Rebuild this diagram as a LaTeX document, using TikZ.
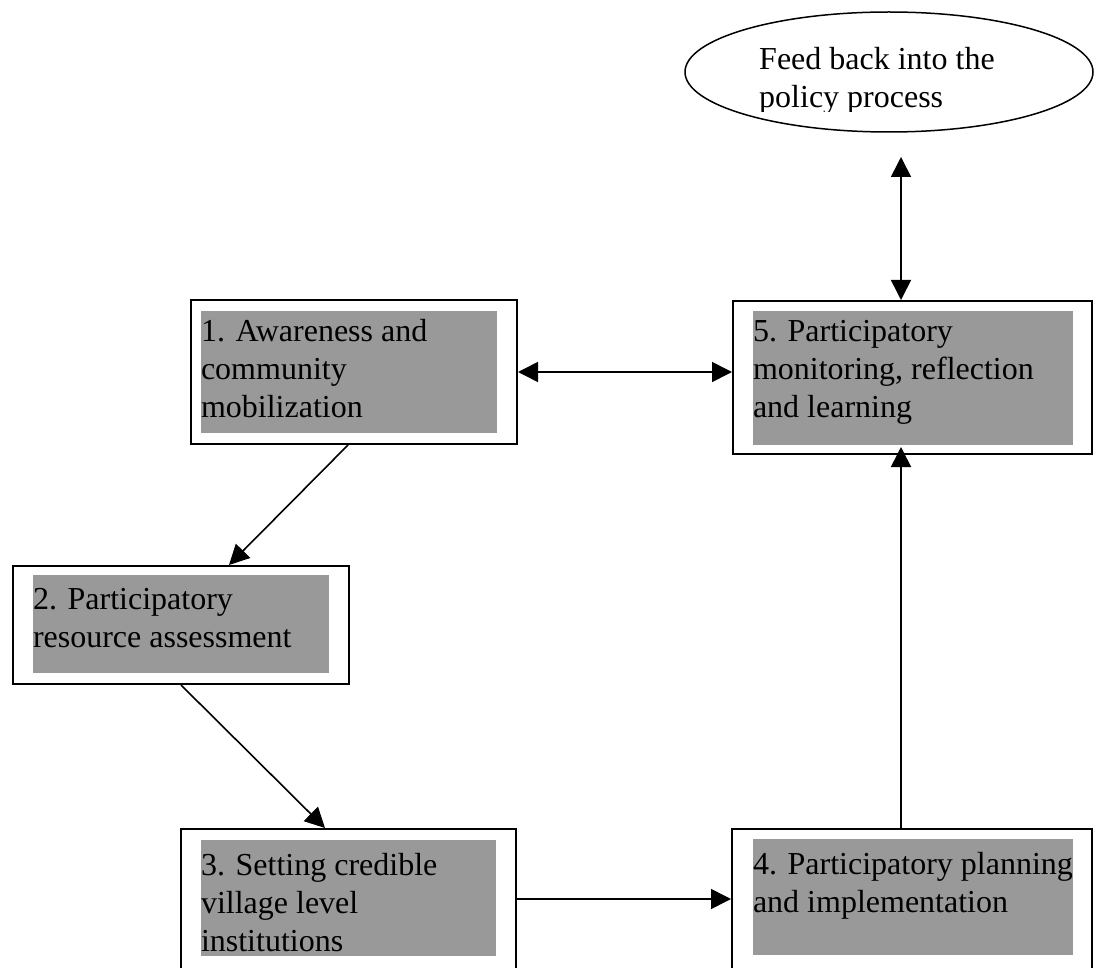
\documentclass[tikz,border=0pt]{standalone}
\usepackage{fontspec}
\setmainfont{Liberation Serif}
\usepackage{tikz}
\usetikzlibrary{arrows.meta,positioning,calc,shapes.geometric}
\definecolor{panelgrey}{RGB}{153,153,153}
\tikzset{
  base/.style={font=\fontsize{32pt}{38pt}\selectfont, text=black, inner sep=0pt},
  boxframe/.style={rectangle, draw=black, fill=white, line width=2pt, inner sep=0pt},
  panel/.style={rectangle, fill=panelgrey, draw=none, inner sep=0pt},
  txt/.style={base, align=left, anchor=base west},
  oval/.style={ellipse, draw=black, fill=white, line width=1.5pt, minimum width=408pt, minimum height=120pt, inner sep=0pt},
  arr/.style={-{Triangle[length=20pt,width=20pt]}, line width=1.6pt, draw=black},
  arr2/.style={{Triangle[length=20pt,width=20pt]}-{Triangle[length=20pt,width=20pt]}, line width=1.6pt, draw=black},
}

\begin{document}
\begin{tikzpicture}[x=1pt,y=-1pt]
  \useasboundingbox (0,0) rectangle (1095,968);
  % feedback oval (base anchor sits on the last line)
  \node[oval] (fbk) at (889,72) {};
  \begin{scope}
    \clip (600,0) rectangle (1095,112);
    \node[txt] (fbktxt) at (759,108) {Feed back into the\\policy process};
  \end{scope}
  % the five steps: frame, grey panel, text
  \node[boxframe, minimum width=326pt, minimum height=144pt] (box1) at (354,372) {};
  \node[panel, minimum width=296pt, minimum height=122pt] (pan1) at (349,372) {};
  \node[txt] (txt1) at ([yshift=-107pt]pan1.north west) {1. Awareness and\\community\\mobilization};

  \node[boxframe, minimum width=336pt, minimum height=118pt] (box2) at (181,625) {};
  \node[panel, minimum width=296pt, minimum height=98pt] (pan2) at (181,624) {};
  \node[txt] (txt2) at ([yshift=-73pt]pan2.north west) {2. Participatory\\resource assessment};

  \node[boxframe, minimum width=335pt, minimum height=140pt] (box3) at (348.5,899) {};
  \node[panel, minimum width=295pt, minimum height=116pt] (pan3) at (348.5,898) {};
  \node[txt] (txt3) at ([yshift=-112pt]pan3.north west) {3. Setting credible\\village level\\institutions};

  \node[boxframe, minimum width=360pt, minimum height=140pt] (box4) at (912,899) {};
  \node[panel, minimum width=320pt, minimum height=116pt] (pan4) at (913,897) {};
  \node[txt] (txt4) at ([yshift=-74pt]pan4.north west) {4. Participatory planning\\and implementation};

  \node[boxframe, minimum width=359pt, minimum height=153pt] (box5) at (912.5,377.5) {};
  \node[panel, minimum width=320pt, minimum height=134pt] (pan5) at (913,378) {};
  \node[txt] (txt5) at ([yshift=-107pt]pan5.north west) {5. Participatory\\monitoring, reflection\\and learning};

  % connectors
  \coordinate (fbtip) at (901,157);
  \draw[arr2] (fbtip) -- (fbtip |- box5.north);
  \draw[arr2] (box1.east) -- (box1.east -| box5.west);
  \draw[arr] ([xshift=-6pt]box1.south) -- ([xshift=48pt]box2.north);
  \draw[arr] (box2.south) -- ([xshift=-23.5pt]box3.north);
  \draw[arr] (box3.east) -- (box3.east -| box4.west);
  \draw[arr] (fbtip |- box4.north) -- ($(fbtip |- box5.south)+(0,-8)$);
\end{tikzpicture}
\end{document}
